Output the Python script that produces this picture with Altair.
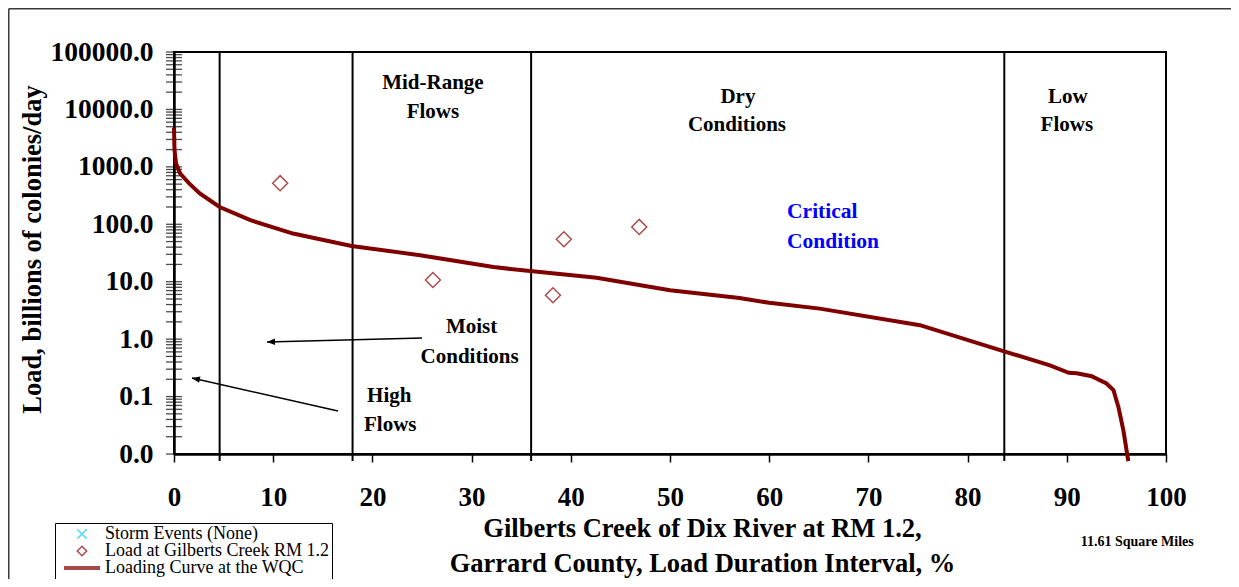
import altair as alt
import pandas as pd

# ---------------- data ----------------
# Loading curve at the WQC (load duration interval %, load billions of colonies/day)
curve_x = [0, 0.05, 0.2, 0.6, 1.5, 2.6, 4.6, 7.7, 12.0, 17.9, 24.8, 32.2, 35.9, 42.6,
           50.0, 57.0, 60.0, 65.1, 75.2, 83.6, 88.3, 90.2, 91.0, 92.5, 94.0, 94.7,
           95.2, 95.7, 96.2]
curve_y = [4800, 2000, 1150, 775, 520, 345, 200, 118, 69, 42, 29, 18, 15.3, 11.7,
           7.1, 5.2, 4.3, 3.4, 1.75, 0.62, 0.35, 0.26, 0.255, 0.226, 0.169, 0.13,
           0.066, 0.026, 0.0075]

# Load at Gilberts Creek RM 1.2 (samples)
sample_x = [10.7, 26.1, 38.2, 39.3, 46.9]
sample_y = [520, 10.7, 5.8, 55, 90]

# flow-regime dividers (%)
divider_x = [4.6, 18.0, 36.0, 83.7]

# annotations
ann_text = ["Mid-Range", "Flows", "Dry", "Conditions", "Low", "Flows",
            "Moist", "Conditions", "High", "Flows"]
ann_x = [26.1, 26.1, 56.85, 56.75, 90.1, 90.0, 30.0, 29.8, 21.7, 21.8]
ann_y = [28800, 9020, 16450, 5355, 16450, 5355, 1.63, 0.489, 0.1023, 0.032]

crit_text = ["Critical", "Condition"]
crit_x = [61.8, 61.8]
crit_y = [163.7, 49.2]

area_text = ["11.61 Square Miles"]
area_x = [97.1]
area_y = [0.000294]

# arrows (tail -> tip)
arrow_id = ["a1", "a1", "a2", "a2"]
arrow_x = [25.0, 9.375, 16.53, 1.81]
arrow_y = [1.047, 0.892, 0.0561, 0.211]
head_x = [9.375, 1.81]
head_y = [0.892, 0.211]
head_angle = [358.5, 12.7]

# y-axis tick positions (log scale, major + minor)
tick_vals = [m * 10.0 ** e for e in range(-2, 5) for m in range(1, 10)] + [100000.0]

series_names = ["Storm Events (None)", "Load at Gilberts Creek RM 1.2", "Loading Curve at the WQC"]

# ---------------- chart ----------------
W, H = 992, 402
FONT = "Liberation Serif"
DARKRED = "#800000"

xs = alt.Scale(domain=[0, 100], nice=False, zero=False)
ys = alt.Scale(type="log", domain=[0.01, 100000], nice=False)

curve_df = pd.DataFrame({"x": curve_x, "y": curve_y})
sample_df = pd.DataFrame({"x": sample_x, "y": sample_y, "series": series_names[1]})
div_df = pd.DataFrame({"x": divider_x})
ann_df = pd.DataFrame({"x": ann_x, "y": ann_y, "t": ann_text})
crit_df = pd.DataFrame({"x": crit_x, "y": crit_y, "t": crit_text})
area_df = pd.DataFrame({"x": area_x, "y": area_y, "t": area_text})
arrow_df = pd.DataFrame({"x": arrow_x, "y": arrow_y, "id": arrow_id})
head_df = pd.DataFrame({"x": head_x, "y": head_y, "a": head_angle})
tick_df = pd.DataFrame({"y": tick_vals})
one = pd.DataFrame({"k": [0]})

x_axis = alt.Axis(
    values=list(range(0, 101, 10)), format="d", grid=False,
    labelFont=FONT, labelFontSize=27, labelFontWeight="bold", labelColor="black",
    labelBaseline="middle", labelPadding=35, labelFlush=False,
    tickSize=8, tickWidth=1.5, tickColor="black",
    domainColor="black", domainWidth=2.5,
    title=["Gilberts Creek of Dix River at RM 1.2,", "Garrard County, Load Duration Interval, %"],
    titleFont=FONT, titleFontSize=26.5, titleFontWeight="bold", titleColor="black",
    titleLineHeight=35, titleX=528, titleY=61, titleAlign="center", titleBaseline="top",
    titleAnchor="start",
)
y_axis = alt.Axis(
    values=[0.01, 0.1, 1, 10, 100, 1000, 10000, 100000], format=".1f", grid=False,
    labelFont=FONT, labelFontSize=27.5, labelFontWeight="bold", labelColor="black",
    labelPadding=21, labelFlush=False, ticks=False, tickSize=0,
    domainColor="black", domainWidth=2.5,
    title="Load, billions of colonies/day",
    titleFont=FONT, titleFontSize=26.5, titleFontWeight="bold", titleColor="black",
    titleX=-142, titleY=197, titleAngle=270, titleAlign="center", titleBaseline="middle",
    titleAnchor="start",
)

X = alt.X("x:Q", scale=xs, axis=x_axis)
Y = alt.Y("y:Q", scale=ys, axis=y_axis)

curve = alt.Chart(curve_df).mark_line(color=DARKRED, strokeWidth=4, clip=False).encode(x=X, y=Y)

dividers = alt.Chart(div_df).mark_rule(color="black", strokeWidth=2).encode(
    x=X, y=alt.value(0), y2=alt.value(H + 7),
)

ticks = alt.Chart(tick_df).mark_tick(color="black", thickness=1.3, size=16, orient="horizontal").encode(
    y=Y, x=alt.value(0),
)

is_curve = "datum.label == 'Loading Curve at the WQC'"
cross_path = "M-1,-1L1,1M-1,1L1,-1"
legend = alt.Legend(
    title=None, orient="none", legendX=-119, legendY=471,
    labelFont=FONT, labelFontSize=18, labelColor="black", labelLimit=500,
    symbolSize=alt.ExprRef(expr=f"{is_curve} ? 1296 : 90"),
    symbolStrokeWidth=alt.ExprRef(expr=f"{is_curve} ? 4 : 1.5"),
    clipHeight=16, symbolOffset=15, labelOffset=14, rowPadding=-4,
    padding=3, strokeColor="black", fillColor="white",
)
samples = alt.Chart(sample_df).mark_point(filled=False, size=225).encode(
    x=X, y=Y,
    strokeWidth=alt.value(1.5),
    color=alt.Color("series:N", scale=alt.Scale(domain=series_names,
                    range=["#00c8ff", "#8b0000", DARKRED]), legend=legend),
    shape=alt.Shape("series:N", scale=alt.Scale(domain=series_names,
                    range=[cross_path, "diamond", "stroke"]), legend=legend),
)

ann = alt.Chart(ann_df).mark_text(font=FONT, fontSize=21, fontWeight="bold", color="black",
                                  align="center", baseline="middle").encode(x=X, y=Y, text="t:N")

crit = alt.Chart(crit_df).mark_text(font=FONT, fontSize=21.5, fontWeight="bold", color="#0000ff",
                                    align="left", baseline="middle").encode(x=X, y=Y, text="t:N")

area = alt.Chart(area_df).mark_text(font=FONT, fontSize=14, fontWeight="bold", color="black",
                                    align="center", baseline="middle", clip=False).encode(
    x=X, y=Y, text="t:N")

arrows = alt.Chart(arrow_df).mark_line(color="black", strokeWidth=1.5).encode(
    x=X, y=Y, detail="id:N")

heads = alt.Chart(head_df).mark_point(filled=True, color="black", opacity=1, size=64,
                                      shape="M0,0L2,-0.8L2,0.8Z").encode(
    x=X, y=Y, angle=alt.Angle("a:Q", scale=None))

frame_top = alt.Chart(one).mark_rule(color="#3a3a3a", strokeWidth=1.5).encode(
    x=alt.value(-165.25), x2=alt.value(1065), y=alt.value(-43.25))
frame_left = alt.Chart(one).mark_rule(color="#3a3a3a", strokeWidth=1.5).encode(
    x=alt.value(-165.25), y=alt.value(-43.25), y2=alt.value(535))

chart = alt.layer(
    frame_top, frame_left, dividers, ticks, arrows, heads, ann, crit, area, curve, samples
).properties(
    width=W, height=H,
    background="white",
    autosize=alt.AutoSizeParams(type="none"),
    padding={"left": 166, "top": 44, "right": 65, "bottom": 125},
).configure_view(stroke="black", strokeWidth=2)

chart.save("out.html", embed_options={"renderer": "svg", "actions": False})
